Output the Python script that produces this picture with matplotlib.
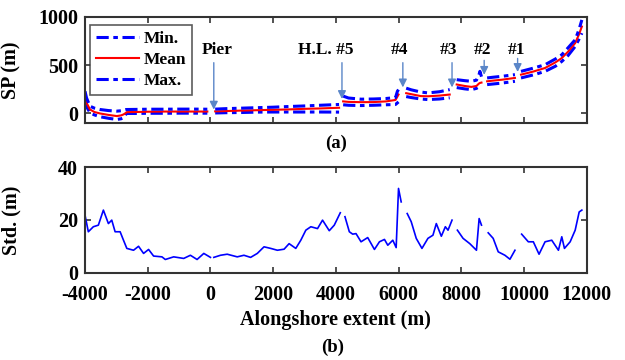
import numpy as np
import matplotlib
matplotlib.use("Agg")
import matplotlib.pyplot as plt

nan = np.nan

# ---- Data ----
sp_x = [-4000, -3950, -3840, -3700, -3520, -3250, -2987, -2850, -2773, -2700, -2667,
        -2400, -2000, -1500, -1000, -500, -100, 0,
        150, 500, 1000, 1500, 2000, 2500, 3000, 3500, 4100, 4160,
        4230, 4400, 4800, 5200, 5600, 5900, 5960, 5995, 6100,
        6240, 6400, 6700, 6934, 7300, 7627, 7700,
        7850, 8100, 8320, 8480, 8560, 8590, 8640, 8720,
        8820, 9000, 9300, 9707, 9780,
        9900, 10300, 10667, 11000, 11200, 11400, 11627, 11750, 11840]
sp_min = [140, 70, 7, -15, -34, -50, -62, -55, -45, -10, 0,
          0, 2, 2, 3, 3, 3, nan,
          5, 8, 10, 14, 15, 15, 15, 15, 14, nan,
          90, 85, 82, 85, 90, 93, 110, 120, nan,
          175, 165, 150, 144, 150, 162, nan,
          268, 255, 247, 260, 275, 282, 285, nan,
          299, 305, 315, 333, nan,
          368, 400, 436, 490, 539, 600, 694, 770, 832]
sp_mean = [165, 110, 41, 15, 0, -15, -27, -20, -10, 5, 14,
           15, 18, 20, 20, 20, 20, nan,
           22, 25, 30, 34, 38, 42, 48, 52, 59, nan,
           125, 120, 117, 118, 125, 140, 175, 196, nan,
           210, 200, 180, 178, 185, 196, nan,
           300, 285, 275, 285, 310, 316, 320, nan,
           333, 340, 350, 368, nan,
           402, 435, 471, 530, 574, 640, 729, 820, 900]
sp_max = [230, 160, 75, 55, 41, 30, 24, 28, 34, 40, 41,
          42, 44, 44, 45, 45, 44, nan,
          45, 50, 55, 60, 65, 72, 78, 85, 93, nan,
          180, 160, 148, 150, 155, 165, 230, 247, nan,
          262, 245, 222, 213, 225, 247, nan,
          350, 340, 333, 345, 400, 436, 381, nan,
          368, 375, 385, 402, nan,
          436, 470, 505, 565, 608, 680, 763, 870, 969]

std_x = [-4000, -3894, -3734, -3574, -3414, -3254, -3147, -3040, -2880, -2773, -2667,
         -2453, -2293, -2133, -1973, -1813, -1547, -1440, -1173, -853, -640, -427, -213, 0, 60,
         107, 320, 533, 853, 1067, 1280, 1493, 1707, 1920, 2133, 2347, 2507, 2720, 2880,
         3040, 3200, 3413, 3573, 3787, 3947, 4139, 4200,
         4288, 4427, 4533, 4640, 4800, 5013, 5227, 5387, 5547, 5653, 5813, 5920, 5995,
         6080, 6170,
         6272, 6400, 6560, 6742, 6933, 7093, 7200, 7360, 7488, 7573, 7701, 7780,
         7872, 8053, 8267, 8480, 8565, 8640, 8750,
         8854, 9013, 9174, 9387, 9547, 9707, 9800,
         9920, 10133, 10293, 10475, 10667, 10880, 11093, 11200, 11285, 11467, 11627,
         11755, 11840]
std_val = [21.8, 15.5, 17.4, 18.0, 23.7, 18.6, 19.9, 15.5, 15.5, 12.3, 9.2,
           8.5, 10.0, 7.3, 8.8, 6.3, 6.0, 5.0, 6.0, 5.4, 6.6, 5.0, 7.3, 5.8, nan,
           5.8, 6.6, 7.0, 6.0, 6.6, 5.8, 7.3, 9.8, 9.2, 8.5, 8.9, 11.0, 9.2, 12.3,
           16.1, 17.4, 16.7, 19.9, 15.9, 18.0, 22.7, nan,
           21.2, 15.5, 14.6, 14.8, 11.7, 13.3, 8.8, 11.7, 12.6, 10.4, 12.3, 9.5, 31.9,
           26.8, nan,
           22.4, 19.3, 13.0, 9.2, 13.0, 14.2, 18.6, 13.8, 17.4, 16.1, 19.9, nan,
           16.1, 13.0, 11.0, 8.5, 20.5, 18.0, nan,
           15.1, 13.0, 7.9, 6.6, 5.1, 8.5, nan,
           14.6, 11.7, 11.7, 7.0, 11.7, 12.3, 8.5, 13.6, 9.2, 11.7, 16.1,
           23.0, 23.7]

ann_labels = ["Pier", "H.L. #5", "#4", "#3", "#2", "#1"]
ann_x = [106, 4192, 6133, 7701, 8726, 9792]
ann_tip = [40, 150, 270, 270, 400, 430]
ann_tail = [526, 526, 526, 526, 550, 570]
ann_text_x = [224, 3664, 6016, 7584, 8682, 9760]

xticks = [-4000, -2000, 0, 2000, 4000, 6000, 8000, 10000, 12000]

# ---- Plot ----
plt.rcParams['font.family'] = ['Liberation Serif', 'DejaVu Serif']
plt.rcParams['font.weight'] = 'bold'
plt.rcParams['axes.labelweight'] = 'bold'
plt.rcParams['axes.unicode_minus'] = False

fig = plt.figure(figsize=(6.25, 3.6), dpi=100)
ax1 = fig.add_axes([0.136, 0.658, 0.803, 0.295])
ax2 = fig.add_axes([0.136, 0.2425, 0.803, 0.2935])

blue = '#0000ff'
red = '#ff0000'
dd = (4, 1.5, 1.5, 1.5)

ax1.plot(sp_x, sp_min, linestyle='-.', dashes=dd, color=blue, lw=2.2, label='Min.')
ax1.plot(sp_x, sp_mean, linestyle='-', color=red, lw=1.5, label='Mean')
ax1.plot(sp_x, sp_max, linestyle='-.', dashes=dd, color=blue, lw=2.2, label='Max.')

arrow_c = '#5a86c8'
for lab, xa, tip, tail, tx in zip(ann_labels, ann_x, ann_tip, ann_tail, ann_text_x):
    ax1.annotate('', xy=(xa, tip), xytext=(xa, tail),
                 arrowprops=dict(arrowstyle='-|>', color=arrow_c, lw=1.0,
                                 mutation_scale=12, shrinkA=0, shrinkB=0))
    ax1.text(tx, 660, lab, ha='center', va='center', fontsize=12.5, fontweight='bold')

ax1.set_xlim(-4000, 12000)
ax1.set_ylim(-100, 1000)
ax1.set_yticks([0, 500, 1000])
ax1.set_xticks(xticks)
ax1.set_xticklabels([])
ax1.set_ylabel('SP (m)', fontsize=14.5, fontweight='bold')
leg = ax1.legend(loc='upper left', fontsize=12.5, frameon=True, fancybox=False,
                 edgecolor='#333333', handlelength=2.5, borderpad=0.35,
                 labelspacing=0.28, handletextpad=0.25, borderaxespad=0.0,
                 bbox_to_anchor=(0.01, 0.925))
leg.get_frame().set_linewidth(1.2)

ax2.plot(std_x, std_val, color=blue, lw=1.2)
ax2.set_xlim(-4000, 12000)
ax2.set_ylim(0, 40)
ax2.set_yticks([0, 20, 40])
ax2.set_xticks(xticks)
ax2.set_ylabel('Std. (m)', fontsize=14.5, fontweight='bold')
ax2.set_xlabel('Alongshore extent (m)', fontsize=14.5, fontweight='bold', labelpad=4)

for ax in (ax1, ax2):
    ax.tick_params(direction='in', top=True, right=True, length=4, width=1.2,
                   labelsize=14.5, color='#333333')
    ax.tick_params(axis='x', pad=8.5)
    ax.tick_params(axis='y', pad=5)
    ax.yaxis.set_label_coords(-0.127, 0.5)
    for s in ax.spines.values():
        s.set_linewidth(1.5)
        s.set_color('#333333')
    for t in ax.get_xticklabels() + ax.get_yticklabels():
        t.set_fontweight('bold')

fig.text(0.537, 0.603, '(a)', ha='center', va='center', fontsize=13.5, fontweight='bold')
fig.text(0.533, 0.036, '(b)', ha='center', va='center', fontsize=13.5, fontweight='bold')

fig.savefig('out.png', dpi=100)
